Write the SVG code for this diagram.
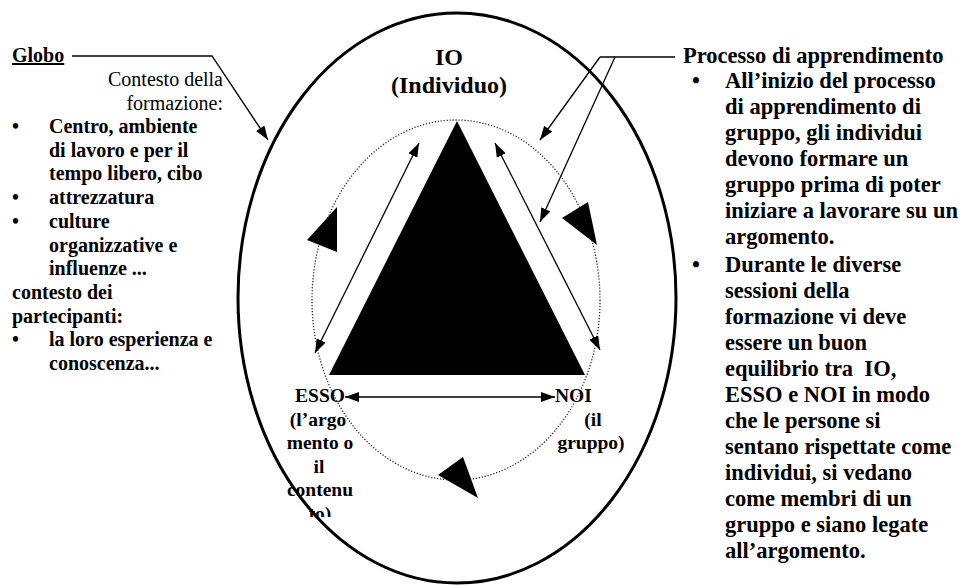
<svg xmlns="http://www.w3.org/2000/svg" width="964" height="585" viewBox="0 0 964 585">
<defs>
<style>
.t{font-family:"Liberation Serif","Times New Roman",serif;fill:#000}
.b{font-weight:bold}
.l{font-size:20px}
.r{font-size:22.5px}
.c{font-size:24px;text-anchor:middle}
.m{font-size:19.5px}
.mc{text-anchor:middle}
.ln{fill:none;stroke:#000;stroke-width:1.3}
.dot{fill:none;stroke:#222;stroke-width:1.3;stroke-dasharray:1.2 1.8}
.big{fill:none;stroke:#000;stroke-width:3}
</style>
<marker id="ah" viewBox="0 0 14 10" refX="14" refY="5" markerWidth="14" markerHeight="10" markerUnits="userSpaceOnUse" orient="auto-start-reverse"><path d="M0,0 L14,5 L0,10 z" fill="#000"/></marker>
<clipPath id="clipEsso"><rect x="250" y="380" width="130" height="137"/></clipPath>
</defs>
<rect width="964" height="585" fill="#fff"/>

<g id="context-text" class="t l">
<text x="12" y="62" class="b" text-decoration="underline">Globo</text>
<text x="223" y="86" text-anchor="end">Contesto della</text>
<text x="223" y="109.7" text-anchor="end">formazione:</text>
<g class="b">
<text x="12" y="133">•</text>
<text x="49" y="133">Centro, ambiente</text>
<text x="49" y="156.7">di lavoro e per il</text>
<text x="49" y="180.4">tempo libero, cibo</text>
<text x="12" y="204.1">•</text>
<text x="49" y="204.1">attrezzatura</text>
<text x="12" y="227.8">•</text>
<text x="49" y="227.8">culture</text>
<text x="49" y="251.5">organizzative e</text>
<text x="49" y="275.2">influenze ...</text>
<text x="12" y="298.9">contesto dei</text>
<text x="12" y="322.6">partecipanti:</text>
<text x="12" y="346.3">•</text>
<text x="49" y="346.3">la loro esperienza e</text>
<text x="49" y="370">conoscenza...</text>
</g>
</g>

<g id="process-text" class="t b r">
<text x="683" y="63">Processo di apprendimento</text>
<text x="692" y="88">•</text>
<text x="725" y="88">All’inizio del processo</text>
<text x="725" y="114">di apprendimento di</text>
<text x="725" y="140">gruppo, gli individui</text>
<text x="725" y="166">devono formare un</text>
<text x="725" y="192">gruppo prima di poter</text>
<text x="725" y="218">iniziare a lavorare su un</text>
<text x="725" y="244">argomento.</text>
<text x="692" y="272">•</text>
<text x="725" y="272">Durante le diverse</text>
<text x="725" y="298">sessioni della</text>
<text x="725" y="324">formazione vi deve</text>
<text x="725" y="350">essere un buon</text>
<text x="725" y="376" style="white-space:pre">equilibrio tra  IO,</text>
<text x="725" y="402">ESSO e NOI in modo</text>
<text x="725" y="428">che le persone si</text>
<text x="725" y="454">sentano rispettate come</text>
<text x="725" y="480">individui, si vedano</text>
<text x="725" y="506">come membri di un</text>
<text x="725" y="532">gruppo e siano legate</text>
<text x="725" y="558">all’argomento.</text>
</g>

<g id="io" class="t b c">
<text x="449" y="65">IO</text>
<text x="449" y="93">(Individuo)</text>
</g>

<g id="esso" class="t b m mc" clip-path="url(#clipEsso)">
<text x="320" y="402">ESSO</text>
<text x="318" y="425.5">(l’argo</text>
<text x="320" y="449">mento o</text>
<text x="319" y="472.5">il</text>
<text x="320" y="496">contenu</text>
<text x="320" y="519.5">to)</text>
</g>

<g id="noi" class="t b m">
<text x="555" y="402">NOI</text>
<text x="593" y="425.5" text-anchor="middle">(il</text>
<text x="591" y="449" text-anchor="middle">gruppo)</text>
</g>

<g id="triangle">
<polygon points="457,121 329,375 585,375" fill="#000"/>
</g>

<g id="cycle">
<ellipse cx="456" cy="300" rx="144" ry="180" class="dot"/>
<polygon points="337,207 337,252 307,240" fill="#000"/>
<polygon points="562,218 588,202 597,245" fill="#000"/>
<polygon points="438,475 463,457 478,498" fill="#000"/>
</g>

<g id="globe">
<ellipse cx="457" cy="298" rx="219" ry="285" class="big"/>
</g>

<g id="connectors">
<line x1="419" y1="143" x2="315" y2="353" class="ln" marker-start="url(#ah)" marker-end="url(#ah)"/>
<line x1="495" y1="143" x2="600" y2="350" class="ln" marker-start="url(#ah)" marker-end="url(#ah)"/>
<line x1="345" y1="397" x2="555" y2="397" class="ln" marker-start="url(#ah)" marker-end="url(#ah)"/>
<polyline points="72,56 212,56 268,140" class="ln" marker-end="url(#ah)"/>
<line x1="600" y1="57" x2="675" y2="57" class="ln"/>
<line x1="600" y1="57" x2="540" y2="140" class="ln" marker-end="url(#ah)"/>
<line x1="615" y1="57" x2="540" y2="222" class="ln" marker-end="url(#ah)"/>
</g>
</svg>
